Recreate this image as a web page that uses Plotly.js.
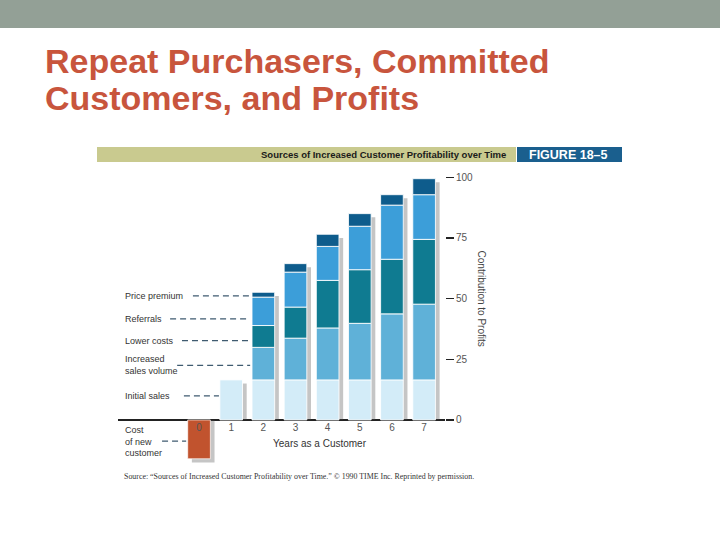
<!DOCTYPE html>
<html><head><meta charset="utf-8">
<script src="https://cdn.plot.ly/plotly-3.0.1.min.js"></script>
<style>html,body{margin:0;padding:0;background:#fff;}#chart{width:720px;height:540px;}</style>
</head><body><div id="chart"></div>
<script>
// ---- data ----
const years = [0, 1, 2, 3, 4, 5, 6, 7];
const costOfNewCustomer    = [-16, null, null, null, null, null, null, null];
const initialSales         = [null, 16.5, 16.5, 16.5, 16.5, 16.5, 16.5, 16.5];
const increasedSalesVolume = [null, null, 13.4, 17.2, 21.4, 23.3, 27.2, 31.2];
const lowerCosts           = [null, null, 9.0, 12.8, 19.6, 22.1, 22.5, 26.7];
const referrals            = [null, null, 11.7, 14.4, 14.0, 17.9, 22.3, 18.4];
const pricePremium         = [null, null, 2.0, 3.5, 5.0, 5.2, 4.3, 6.6];
const yTickValues = [0, 25, 50, 75, 100];
const xTickLabels = ['0', '1', '2', '3', '4', '5', '6', '7'];

const seriesNames = ['Initial sales', 'Increased sales volume', 'Lower costs', 'Referrals', 'Price premium'];
const seriesData = [initialSales, increasedSalesVolume, lowerCosts, referrals, pricePremium];
const seriesColors = ['#d3ecf8', '#5fb1d8', '#0f7b91', '#3c9ed9', '#0e5c8c'];

// ---- style ----
const barW = 0.705;
const shadowShift = 0.13;
const shadowDrop = 1.5;
const FONT = 'Liberation Sans, Arial, sans-serif';

// cumulative bases for stacking
const bases = [];
let running = years.map(() => 0);
seriesData.forEach(s => {
  bases.push(running.slice());
  running = running.map((r, i) => r + (s[i] || 0));
});
const totals = years.map((_, i) => (costOfNewCustomer[i] != null ? costOfNewCustomer[i] : running[i]));

const traces = [];
// shadow
traces.push({
  type: 'bar', x: years, y: totals.map(t => t - shadowDrop), base: 0,
  width: barW, offset: -barW / 2 + shadowShift,
  marker: {color: 'rgba(80,80,80,0.33)', line: {width: 0}},
  hoverinfo: 'skip', showlegend: false
});
// cost of new customer
traces.push({
  type: 'bar', name: 'Cost of new customer', x: years, y: costOfNewCustomer, base: 0,
  width: barW, offset: -barW / 2,
  marker: {color: '#c1532e', line: {color: 'rgba(255,255,255,0.7)', width: 1}},
  showlegend: false
});
seriesData.forEach((s, k) => {
  traces.push({
    type: 'bar', name: seriesNames[k], x: years, y: s, base: bases[k],
    width: barW, offset: -barW / 2,
    marker: {color: seriesColors[k], line: {color: 'rgba(255,255,255,0.85)', width: 1}},
    showlegend: false
  });
});

// pixel helpers for paper coordinates (plot area: x 118..445, y 168..468)
const L = 118, R = 275, T = 168, B = 72;
const PW = 720 - L - R, PH = 540 - T - B;
const px = v => (v - L) / PW;
const py = v => (540 - B - v) / PH;

const labelFont = {family: FONT, size: 9, color: '#333'};
const leaderLine = {color: '#3f5b70', width: 1.2, dash: '6px,4px'};

const labels = [
  {text: 'Price premium', y: 51.1, x0: -0.19, x1: 1.59},
  {text: 'Referrals', y: 41.6, x0: -0.90, x1: 1.49},
  {text: 'Lower costs', y: 32.7, x0: -0.53, x1: 1.59},
  {text: 'Increased<br>sales volume', y: 22.5, x0: -0.68, x1: 1.59},
  {text: 'Initial sales', y: 9.9, x0: -0.47, x1: 0.62},
  {text: 'Cost<br>of new<br>customer', y: -8.7, x0: -1.15, x1: -0.40}
];

const titleFont = {family: FONT, size: 34, color: '#c8553d'};
const annotations = [
  {xref: 'paper', yref: 'paper', x: px(43), y: py(61), xanchor: 'left', yanchor: 'middle', align: 'left',
   text: '<b>Repeat Purchasers, Committed</b>', showarrow: false, font: titleFont},
  {xref: 'paper', yref: 'paper', x: px(43), y: py(98), xanchor: 'left', yanchor: 'middle', align: 'left',
   text: '<b>Customers, and Profits</b>', showarrow: false, font: titleFont},
  {xref: 'paper', yref: 'paper', x: px(508), y: py(154.5), xanchor: 'right', yanchor: 'middle',
   text: '<b>Sources of Increased Customer Profitability over Time</b>', showarrow: false,
   font: {family: FONT, size: 9.5, color: '#1a1a1a'}},
  {xref: 'paper', yref: 'paper', x: px(568), y: py(154.5), xanchor: 'center', yanchor: 'middle',
   text: '<b>FIGURE 18–5</b>', showarrow: false,
   font: {family: FONT, size: 12.5, color: '#ffffff'}},
  {xref: 'paper', yref: 'y', x: px(481), y: 50, xanchor: 'center', yanchor: 'middle',
   text: 'Contribution to Profits', textangle: 90, showarrow: false,
   font: {family: FONT, size: 10, color: '#444'}},
  {xref: 'paper', yref: 'paper', x: px(320), y: py(443), xanchor: 'center', yanchor: 'middle',
   text: 'Years as a Customer', showarrow: false,
   font: {family: FONT, size: 10, color: '#333'}},
  {xref: 'paper', yref: 'paper', x: px(122), y: py(476), xanchor: 'left', yanchor: 'middle',
   text: 'Source: “Sources of Increased Customer Profitability over Time.” © 1990 TIME Inc. Reprinted by permission.',
   showarrow: false, font: {family: 'Liberation Serif, Times New Roman, serif', size: 7.9, color: '#333'}}
];
labels.forEach(l => annotations.push({
  xref: 'paper', yref: 'y', x: px(123), y: l.y, xanchor: 'left', yanchor: 'middle', align: 'left',
  text: l.text, showarrow: false, font: labelFont
}));

const shapes = [
  {type: 'rect', xref: 'paper', yref: 'paper', x0: px(0) - 0.01, x1: px(720) + 0.01, y0: py(28), y1: py(-2),
   fillcolor: '#93a096', line: {width: 0}, layer: 'below'},
  {type: 'rect', xref: 'paper', yref: 'paper', x0: px(97), x1: px(516), y0: py(162), y1: py(147),
   fillcolor: '#c9ca8f', line: {width: 0}, layer: 'below'},
  {type: 'rect', xref: 'paper', yref: 'paper', x0: px(517), x1: px(622), y0: py(162), y1: py(147),
   fillcolor: '#1a5f8e', line: {width: 0}, layer: 'below'}
];
labels.forEach(l => shapes.push({
  type: 'line', xref: 'x', yref: 'y', x0: l.x0, x1: l.x1, y0: l.y, y1: l.y, line: leaderLine
}));

const layout = {
  width: 720, height: 540,
  margin: {l: L, r: R, t: T, b: B, pad: 0},
  paper_bgcolor: '#ffffff', plot_bgcolor: 'rgba(0,0,0,0)',
  barmode: 'overlay', showlegend: false,
  font: {family: FONT},
  xaxis: {
    range: [-2.52, 7.65], anchor: 'free', position: py(420),
    tickmode: 'array', tickvals: years, ticktext: xTickLabels,
    ticks: '', showgrid: false, zeroline: false, showline: false,
    tickfont: {family: FONT, size: 10, color: '#555'}
  },
  yaxis: {
    range: [-19.8, 103.8], side: 'right',
    tickmode: 'array', tickvals: yTickValues,
    ticks: 'outside', ticklen: 8, tickwidth: 1.3, tickcolor: '#222',
    showgrid: false, showline: false,
    zeroline: true, zerolinecolor: '#222', zerolinewidth: 1.5,
    tickfont: {family: FONT, size: 10, color: '#555'}
  },
  annotations: annotations,
  shapes: shapes
};

Plotly.newPlot('chart', traces, layout, {displayModeBar: false, staticPlot: true});
</script>
</body></html>
